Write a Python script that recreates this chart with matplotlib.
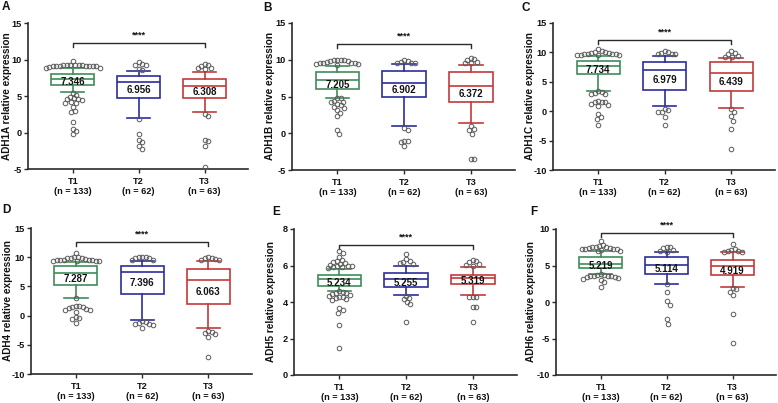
import matplotlib
matplotlib.use('Agg')
import matplotlib.pyplot as plt
import numpy as np

plt.rcParams['font.family'] = ['Liberation Sans', 'DejaVu Sans']
plt.rcParams['font.weight'] = 'bold'
plt.rcParams['axes.unicode_minus'] = False

W, H = 778, 403

# ---------------- data ----------------
genes = ['ADH1A', 'ADH1B', 'ADH1C', 'ADH4', 'ADH5', 'ADH6']
panel_letters = ['A', 'B', 'C', 'D', 'E', 'F']
groups = ['T1', 'T2', 'T3']
group_n = [133, 62, 63]
group_colors = ['#3f8c5a', '#2b2d9c', '#c43a3a']

medians = [[7.346, 6.956, 6.308],
           [7.205, 6.902, 6.372],
           [7.734, 6.979, 6.439],
           [7.287, 7.396, 6.063],
           [5.234, 5.255, 5.319],
           [5.219, 5.114, 4.919]]
q1 = [[6.45, 4.68, 4.73],
      [6.05, 5.00, 4.23],
      [6.30, 3.64, 3.47],
      [5.17, 3.64, 1.93],
      [4.85, 4.80, 4.98],
      [4.60, 3.86, 3.68]]
q3 = [[8.08, 7.78, 7.33],
      [8.27, 8.45, 8.40],
      [8.58, 8.30, 8.40],
      [8.47, 8.50, 7.90],
      [5.47, 5.60, 5.50],
      [6.14, 6.14, 5.73]]
whisker_low = [[5.50, 1.94, 2.80],
               [4.82, 1.05, 1.40],
               [3.47, 0.85, 0.57],
               [3.00, -0.80, -2.16],
               [4.58, 4.38, 4.36],
               [3.77, 2.50, 2.00]]
whisker_high = [[8.80, 8.47, 8.33],
                [9.18, 9.45, 9.30],
                [9.40, 9.43, 9.10],
                [9.15, 9.30, 9.43],
                [5.82, 6.00, 5.90],
                [6.95, 6.90, 6.80]]

outliers_A = [
    [9.75, 9.25, 9.25, 9.2, 9.2, 9.2, 9.2, 9.15, 9.15, 9.15, 9.1, 9.1, 9.1, 9.05, 8.95, 8.9, 8.85,
     5.45, 5.2, 4.9, 4.7, 4.6, 4.6, 4.5, 4.2, 4.1, 4.0, 3.5, 2.9, 2.75, 1.5, 0.5, 0.15, -0.2],
    [9.6, 9.35, 9.3, 9.2, 8.7, 8.6, 1.9, -0.2, -1.05, -1.3, -1.8, -2.2],
    [9.4, 9.3, 9.1, 8.9, 8.8, 8.7, 2.5, 2.3, -1.0, -1.2, -1.9, -4.7],
]
outliers_B = [
    [10.0, 10.0, 9.9, 9.9, 9.8, 9.8, 9.7, 9.6, 9.5, 9.5, 9.5, 9.4, 9.4, 9.3,
     4.8, 4.8, 4.4, 4.3, 4.2, 4.0, 3.8, 3.6, 3.4, 3.2, 2.7, 2.3, 0.5, -0.1],
    [9.9, 9.8, 9.7, 9.6, 9.5, 9.5, 0.7, 0.4, -1.0, -1.1, -1.2, -1.7],
    [10.3, 10.1, 10.0, 9.7, 9.6, 9.5, 1.0, 0.6, 0.4, -0.05, -3.5, -3.5],
]
outliers_C = [
    [10.5, 10.2, 10.1, 10.0, 9.9, 9.9, 9.8, 9.8, 9.7, 9.7, 9.6, 9.6, 9.5, 9.5,
     3.5, 3.2, 3.1, 3.0, 3.0, 1.8, 1.6, 1.6, 1.5, 1.3, 1.0, 0.8, -0.4, -1.0, -1.4, -2.4],
    [10.2, 10.0, 9.9, 9.8, 9.7, 9.7, 0.4, 0.2, -0.1, -0.2, -1.0, -2.3],
    [10.2, 9.9, 9.7, 9.4, 9.3, 9.2, 0.3, -0.2, -0.9, -1.7, -3.0, -6.4],
]
outliers_D = [
    [10.8, 10.1, 10.0, 9.9, 9.9, 9.8, 9.7, 9.6, 9.6, 9.5, 9.5, 9.5, 9.4, 9.4, 9.4, 9.3,
     3.0, 1.7, 1.6, 1.5, 1.4, 1.3, 1.2, 1.0, 0.9, 0.7, -0.2, -0.4, -0.6, -1.2],
    [10.1, 10.0, 10.0, 9.9, 9.8, 9.6, 9.5, -1.0, -1.1, -1.3, -1.4, -1.5, -1.6, -2.1],
    [10.0, 9.9, 9.8, 9.7, 9.6, 9.5, -2.6, -2.8, -2.9, -3.1, -3.6, -7.1],
]
outliers_E = [
    [6.8, 6.7, 6.45, 6.3, 6.25, 6.2, 6.15, 6.1, 6.05, 6.0, 6.0, 5.95, 5.9, 5.9, 5.85,
     4.6, 4.55, 4.5, 4.5, 4.45, 4.4, 4.35, 4.3, 4.25, 4.2, 4.15, 4.1, 3.65, 3.55, 3.4, 2.75, 1.5],
    [6.65, 6.35, 6.25, 6.2, 6.15, 6.1, 4.35, 4.2, 4.15, 4.0, 3.9, 2.9],
    [6.3, 6.25, 6.2, 6.1, 6.05, 6.0, 4.3, 4.3, 4.3, 3.75, 3.7, 2.9],
]
outliers_F = [
    [8.4, 7.8, 7.7, 7.6, 7.5, 7.5, 7.4, 7.4, 7.3, 7.3, 7.2, 7.2, 7.1, 7.0, 7.0,
     3.8, 3.7, 3.7, 3.6, 3.6, 3.5, 3.5, 3.4, 3.4, 3.3, 3.2, 3.0, 2.8, 2.1],
    [7.6, 7.5, 7.4, 7.1, 7.0, 6.9, 2.5, 1.35, 0.1, -0.35, -2.3, -2.95],
    [7.9, 7.3, 7.1, 7.0, 7.0, 6.9, 6.9, 1.9, 1.8, 1.4, 1.0, -1.6, -5.6],
]
outliers = [outliers_A, outliers_B, outliers_C, outliers_D, outliers_E, outliers_F]

y_limits = [(-5, 15), (-5, 15), (-10, 15), (-10, 15), (0, 8), (-10, 10)]
y_steps = [5, 5, 5, 5, 2, 5]
bracket_y = [12.2, 12.2, 12.1, 12.6, 7.14, 9.5]
significance = ['****'] * 6

# ---------------- layout (pixels) ----------------
axes_px = [(28, 23, 248, 169), (292, 23, 515, 170), (553, 23, 775, 170),
           (31, 228, 252, 374), (294, 229, 517, 375), (556, 229, 776, 375)]
letter_px = [(2, 7), (263, 8), (521, 8), (2, 210), (272, 212), (530, 212)]
ylabel_x_px = [7, 270, 530, 8, 271, 531]


def swarm_x(values, ax, center, sx=3.5, sy=5.0, step_px=0.5):
    vals = np.asarray(values, dtype=float)
    disp = ax.transData.transform(np.column_stack([np.full(len(vals), center), vals]))
    ys = disp[:, 1]
    px_per_x = ax.transData.transform((center + 1, 0))[0] - ax.transData.transform((center, 0))[0]
    placed = []
    xs = np.empty(len(vals))
    for idx in np.argsort(-vals, kind='stable'):
        y = ys[idx]
        k = 0
        chosen = None
        while chosen is None:
            cands = [0.0] if k == 0 else [k * step_px, -k * step_px]
            for dx in cands:
                if all(((dx - px) / sx) ** 2 + ((y - py) / sy) ** 2 >= 1.0 for px, py in placed):
                    chosen = dx
                    break
            k += 1
        placed.append((chosen, y))
        xs[idx] = center + chosen / px_per_x
    return xs


fig = plt.figure(figsize=(W / 100, H / 100), dpi=100)
line_col = '#2a2a2a'

for i in range(6):
    l, t, r, b = axes_px[i]
    ax = fig.add_axes([l / W, 1 - b / H, (r - l) / W, (b - t) / H])
    lo, hi = y_limits[i]

    stats = []
    for g in range(3):
        stats.append(dict(med=medians[i][g], q1=q1[i][g], q3=q3[i][g],
                          whislo=whisker_low[i][g], whishi=whisker_high[i][g], fliers=[]))
    bp = ax.bxp(stats, positions=[1, 2, 3], widths=0.65, capwidths=0.35,
                patch_artist=True, showfliers=False, manage_ticks=False)
    for g, color in enumerate(group_colors):
        bp['boxes'][g].set(facecolor='white', edgecolor=color, linewidth=1.2, zorder=2)
        bp['medians'][g].set(color=color, linewidth=1.2, zorder=3)
        for k in (2 * g, 2 * g + 1):
            bp['whiskers'][k].set(color=color, linewidth=1.2)
            bp['caps'][k].set(color=color, linewidth=1.2)

    ax.set_xlim(0.32, 3.66)
    ax.set_ylim(lo, hi)
    ax.set_yticks(np.arange(lo, hi + 0.01, y_steps[i]))
    ax.set_xticks([1, 2, 3])
    ax.set_xticklabels([f'{g}\n(n = {n})' for g, n in zip(groups, group_n)],
                       linespacing=1.2)
    for s in ('top', 'right'):
        ax.spines[s].set_visible(False)
    for s in ('left', 'bottom'):
        ax.spines[s].set_linewidth(1.2)
        ax.spines[s].set_color(line_col)
    ax.tick_params(axis='both', direction='out', length=3, width=1, color=line_col,
                   labelsize=6.6, labelcolor='#111111')
    ax.tick_params(axis='x', pad=2.5)
    ax.tick_params(axis='y', pad=1.2)

    for g in range(3):
        vals = outliers[i][g]
        xs = swarm_x(vals, ax, g + 1)
        ax.plot(xs, vals, 'o', mfc='none', mec='#5a5a5a', ms=3.3, mew=0.7,
                zorder=5, clip_on=False)
        ax.text(g + 1, (medians[i][g] + q1[i][g]) / 2, f'{medians[i][g]:.3f}',
                ha='center', va='center', fontsize=7, fontweight='bold',
                color='#111111', zorder=6)

    px_per_y = (b - t) / (hi - lo)
    drop = 4.0 / px_per_y
    by = bracket_y[i]
    ax.plot([1, 1, 3, 3], [by - drop, by, by, by - drop], color=line_col, lw=1.0,
            zorder=4)
    ax.annotate(significance[i], xy=(2, by), xytext=(0, 2.5), textcoords='offset points',
                ha='center', va='bottom', fontsize=6.5, fontweight='bold', color='#111111')

    fig.text(ylabel_x_px[i] / W, 1 - ((t + b) / 2) / H, f'{genes[i]} relative expression',
             rotation=90, ha='center', va='center', fontsize=7.2, fontweight='bold',
             color='#111111')
    lx, ly = letter_px[i]
    fig.text(lx / W, 1 - ly / H, panel_letters[i], ha='left', va='center',
             fontsize=8.5, fontweight='bold', color='#111111')

fig.savefig('out.png', dpi=100, facecolor='white')
